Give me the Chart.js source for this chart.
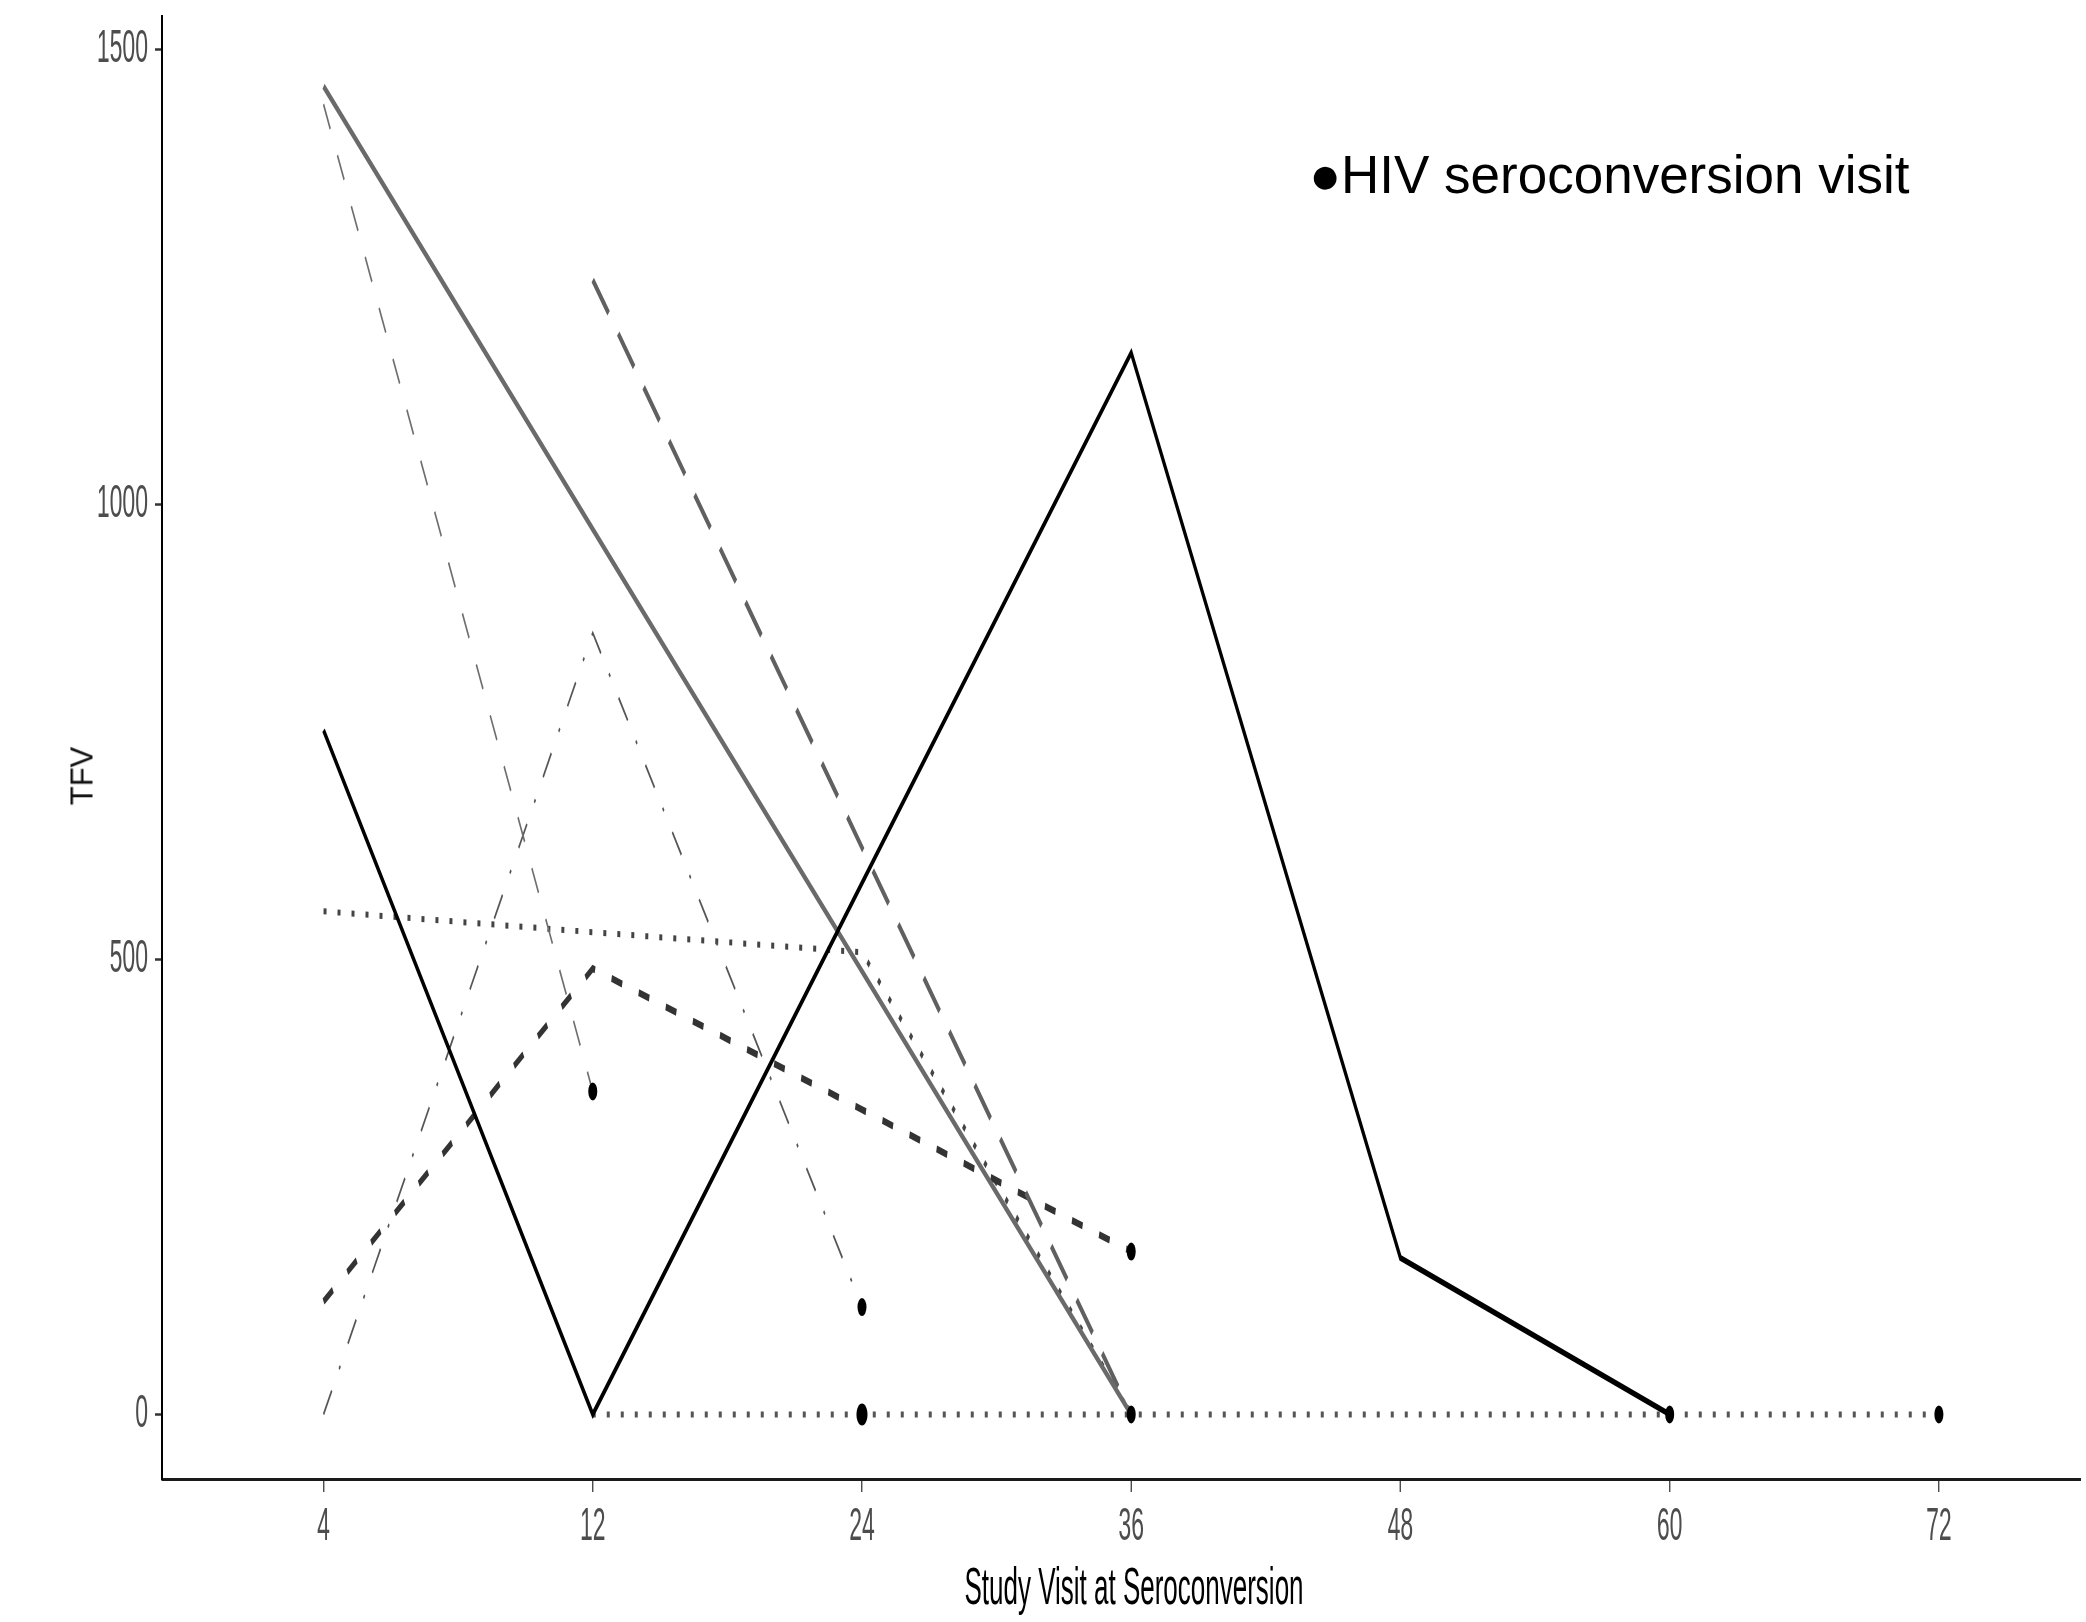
<!DOCTYPE html>
<html>
<head>
<meta charset="utf-8">
<script src="https://cdn.jsdelivr.net/npm/chart.js@4.4.0/dist/chart.umd.min.js"></script>
<style>
html,body{margin:0;padding:0;background:#fff;overflow:hidden;width:2086px;height:1622px;position:relative;}
#wrap{position:absolute;left:0;top:0;width:4172px;height:1622px;transform:scaleX(0.5);transform-origin:0 0;}
canvas{display:block;}
#xtitle{position:absolute;left:2268px;top:1560px;transform:translateX(-50%);font:52px/1 'Liberation Sans',Arial,sans-serif;color:#000;white-space:nowrap;}
#ytitle{position:absolute;left:82px;top:776px;transform:translate(-50%,-50%) rotate(-90deg);font:31px 'Liberation Sans',Arial,sans-serif;color:#111;white-space:nowrap;line-height:1;}
#legend{position:absolute;left:1309px;top:148px;font:53px/1 'Liberation Sans',Arial,sans-serif;color:#000;white-space:nowrap;}
</style>
</head>
<body>
<div id="wrap"><canvas id="c" width="4172" height="1622"></canvas><div id="xtitle"></div></div>
<div id="ytitle"></div>
<div id="legend"></div>
<script>
// ---- data ----
const categories = ['4', '12', '24', '36', '48', '60', '72'];
const yTickValues = [0, 500, 1000, 1500];
const xTitle = 'Study Visit at Seroconversion';
const yTitle = 'TFV';
const legendText = '\u25CFHIV seroconversion visit';

// TFV values per study visit (null = no value)
const seriesA = [1440, 355, null, null, null, null, null];   // thin grey dashed
const seriesB = [1460, 973, 487, 0, null, null, null];        // grey solid
const seriesC = [null, 1247, 623, 0, null, null, null];       // grey long dash
const seriesD = [0, 859, 118, null, null, null, null];        // dash-dot
const seriesE = [752, 0, 584, 1167, 172, 0, null];            // black solid
const seriesF = [553, 530, 508, 0, null, null, null];         // dotted
const seriesG = [null, 0, 0, 0, 0, 0, 0];                     // dotted at zero
const seriesH = [124, 490, 335, 179, null, null, null];       // dark short dash

// seroconversion visit markers
const dotCats = ['12', '24', '24', '36', '36', '60', '72'];
const dotValues = [355, 118, 0, 179, 0, 0, 0];
const dotSizes = [9, 9, 11, 9, 9, 9, 9];

document.getElementById('xtitle').textContent = xTitle;
document.getElementById('ytitle').textContent = yTitle;
document.getElementById('legend').textContent = legendText;

function pts(vals) {
  return vals.map((v, i) => v == null ? null : {x: i, y: v}).filter(p => p);
}
function line(label, vals, color, width, dash) {
  return {label, data: pts(vals), borderColor: color, borderWidth: width, borderDash: dash,
          pointRadius: 0, tension: 0, fill: false, borderCapStyle: 'butt', borderJoinStyle: 'miter'};
}

const FONT = "'Liberation Sans', Arial, sans-serif";
Chart.defaults.font.family = FONT;

new Chart(document.getElementById('c'), {
  type: 'line',
  data: {
    datasets: [
      {label: 'HIV seroconversion visit', type: 'scatter',
       data: dotCats.map((c, i) => ({x: categories.indexOf(c), y: dotValues[i]})),
       pointRadius: dotSizes, backgroundColor: '#000', borderWidth: 0, showLine: false},
      line('E', seriesE, '#000000', 6, []),
      line('B', seriesB, '#6a6a6a', 6.5, []),
      line('C', seriesC, '#606060', 6.5, [46, 28]),
      line('A', seriesA, '#6e6e6e', 3, [28, 30]),
      line('D', seriesD, '#555555', 3, [29, 26, 4, 27]),
      line('H', seriesH, '#333333', 7, [22, 34]),
      line('F', seriesF, '#444444', 6, [6, 22]),
      line('G', seriesG, '#555555', 6, [6, 22])
    ]
  },
  options: {
    responsive: false,
    animation: false,
    devicePixelRatio: 1,
    layout: {padding: {top: 17, left: 0, right: 0, bottom: 0}},
    plugins: {legend: {display: false}, tooltip: {enabled: false}},
    scales: {
      x: {
        type: 'linear', min: -0.6, max: 6.526,
        afterBuildTicks: s => { s.ticks = categories.map((c, i) => ({value: i})); },
        ticks: {callback: (v, i) => categories[i], font: {size: 46}, color: '#4d4d4d',
                padding: 8, maxRotation: 0, autoSkip: false},
        grid: {drawOnChartArea: false, drawTicks: true, tickLength: 13, tickColor: '#333', tickWidth: 2.5, color: '#333'},
        border: {display: true, color: '#1a1a1a', width: 3},
        title: {display: false},
        afterFit: s => { s.height = 143; s.paddingLeft = 0; s.paddingRight = 0; }
      },
      y: {
        type: 'linear', min: -71, max: 1536,
        afterBuildTicks: s => { s.ticks = yTickValues.map(v => ({value: v})); },
        ticks: {callback: (v) => String(v), font: {size: 46}, color: '#4d4d4d', padding: 14},
        grid: {drawOnChartArea: false, drawTicks: true, tickLength: 14, tickColor: '#333', tickWidth: 2.5, color: '#333'},
        border: {display: true, color: '#000', width: 4},
        afterFit: s => { s.width = 324; s.paddingTop = 0; s.paddingBottom = 0; }
      }
    }
  }
});
</script>
</body>
</html>
